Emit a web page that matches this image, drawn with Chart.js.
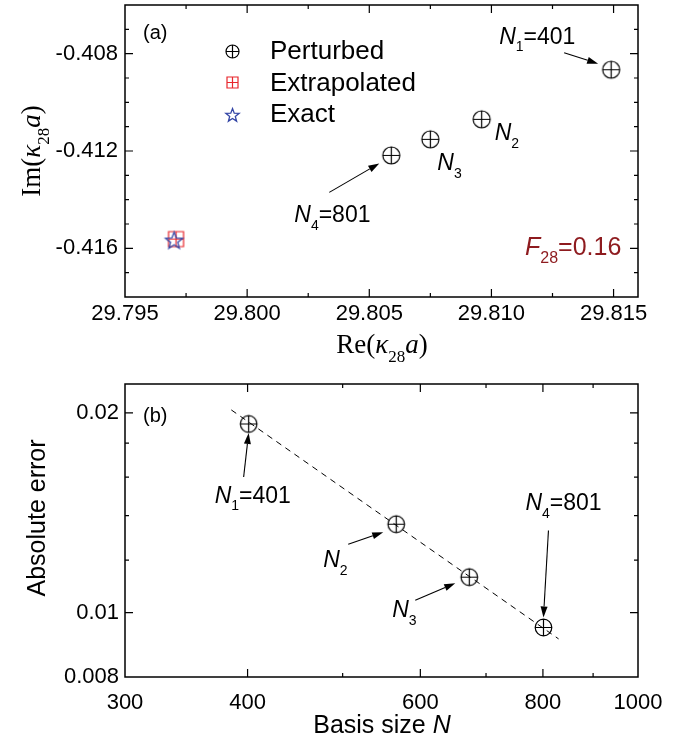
<!DOCTYPE html>
<html>
<head>
<meta charset="utf-8">
<script src="https://cdn.jsdelivr.net/npm/chart.js@4.4.0/dist/chart.umd.min.js"></script>
<style>
  body { margin: 0; background: #fff; }
  canvas { position: absolute; left: 0; }
</style>
</head>
<body>
<canvas id="panelA" width="690" height="370" style="top:0px"></canvas>
<canvas id="panelB" width="690" height="384" style="top:370px"></canvas>
<script>
// ---- panel (a): complex eigenvalue kappa_28 a ----
const perturbedRe = [29.8149, 29.8096, 29.8075, 29.8059];
const perturbedIm = [-0.40866, -0.41070, -0.41152, -0.41218];
const extrapolatedRe = [29.79709];
const extrapolatedIm = [-0.41562];
const exactRe = [29.79701];
const exactIm = [-0.41566];

const reTicks = [29.795, 29.7975, 29.800, 29.8025, 29.805, 29.8075, 29.810, 29.8125, 29.815];
const reLabels = [29.795, 29.800, 29.805, 29.810, 29.815];
const imTicks = [-0.417, -0.416, -0.415, -0.414, -0.413, -0.412, -0.411, -0.410, -0.409, -0.408, -0.407];
const imLabels = [-0.416, -0.412, -0.408];

// ---- panel (b): absolute error vs basis size ----
const basisN = [401, 567, 673, 801];
const absError = [0.01924, 0.01359, 0.01131, 0.00950];
const fitN = [385, 830];
const fitError = [0.0202, 0.00913];

const nTicks = [300, 400, 500, 600, 700, 800, 900, 1000];
const nLabels = [300, 400, 600, 800, 1000];
const errTicks = [0.008, 0.01, 0.012, 0.014, 0.016, 0.018, 0.02];
const errLabels = [0.008, 0.01, 0.02];

const SANS = '"Liberation Sans", Arial, Helvetica, sans-serif';
const SERIF = '"Liberation Serif", "Times New Roman", serif';
Chart.defaults.font.family = SANS;
Chart.defaults.color = '#000';

const has = (list, v) => list.some(l => Math.abs(l - v) < 1e-9);

// fixed axis box sizes, no extra label padding
const fixWidth = w => s => { s.width = w; s.paddingTop = s.paddingBottom = s.paddingLeft = s.paddingRight = 0; };
const fixHeight = h => s => { s.height = h; s.paddingTop = s.paddingBottom = s.paddingLeft = s.paddingRight = 0; };

// marker images
function makeMarker(r, draw) {
  const c = document.createElement('canvas');
  c.width = c.height = 2 * Math.ceil(r + 2) + 1;
  const g = c.getContext('2d');
  draw(g, c.width / 2, r);
  return c;
}
function oplus(r) {
  return makeMarker(r, (g, m, r) => {
    g.strokeStyle = '#000'; g.lineWidth = 1.2;
    g.beginPath(); g.arc(m, m, r, 0, Math.PI * 2);
    g.moveTo(m - r, m); g.lineTo(m + r, m);
    g.moveTo(m, m - r); g.lineTo(m, m + r);
    g.stroke();
  });
}
function boxplus(r) {
  return makeMarker(r, (g, m, r) => {
    g.strokeStyle = '#e8262c'; g.lineWidth = 1.2;
    g.beginPath(); g.rect(m - r, m - r, 2 * r, 2 * r);
    g.moveTo(m - r, m); g.lineTo(m + r, m);
    g.moveTo(m, m - r); g.lineTo(m, m + r);
    g.stroke();
  });
}
function star(r) {
  return makeMarker(r, (g, m, r) => {
    g.strokeStyle = '#3446a6'; g.lineWidth = 1.3;
    g.beginPath();
    for (let k = 0; k < 10; k++) {
      const rr = k % 2 ? r * 0.42 : r;
      const ang = -Math.PI / 2 + k * Math.PI / 5;
      const px = m + rr * Math.cos(ang), py = m + 1 + rr * Math.sin(ang);
      k ? g.lineTo(px, py) : g.moveTo(px, py);
    }
    g.closePath(); g.stroke();
  });
}

function drawRich(ctx, parts, x, y, o) {
  const font = p => `${p.it ? 'italic ' : ''}${p.sub ? Math.round(o.size * 0.62) : o.size}px ${o.family || SANS}`;
  ctx.save();
  ctx.translate(x, y);
  if (o.rotate) ctx.rotate(o.rotate);
  ctx.fillStyle = o.color || '#000';
  ctx.textBaseline = 'alphabetic';
  ctx.textAlign = 'left';
  let w = 0;
  parts.forEach(p => { ctx.font = font(p); w += ctx.measureText(p.t).width; });
  let cx = o.align === 'center' ? -w / 2 : 0;
  parts.forEach(p => {
    ctx.font = font(p);
    ctx.fillText(p.t, cx, p.sub ? o.size * 0.32 : 0);
    cx += ctx.measureText(p.t).width;
  });
  ctx.restore();
}

function arrow(ctx, x1, y1, x2, y2) {
  const a = Math.atan2(y2 - y1, x2 - x1), L = 11, W = 3.5;
  ctx.beginPath(); ctx.moveTo(x1, y1);
  ctx.lineTo(x2 - L * Math.cos(a), y2 - L * Math.sin(a)); ctx.stroke();
  ctx.beginPath();
  ctx.moveTo(x2, y2);
  ctx.lineTo(x2 - L * Math.cos(a) + W * Math.sin(a), y2 - L * Math.sin(a) - W * Math.cos(a));
  ctx.lineTo(x2 - L * Math.cos(a) - W * Math.sin(a), y2 - L * Math.sin(a) + W * Math.cos(a));
  ctx.closePath(); ctx.fill();
}

// frame, inward ticks, legend, notes, titles
const decorPlugin = {
  id: 'decor',
  afterDraw(chart, args, opts) {
    const { ctx, chartArea: a, scales } = chart;
    ctx.save();
    ctx.strokeStyle = '#000'; ctx.fillStyle = '#000';
    ctx.lineWidth = 1.5;
    ctx.strokeRect(a.left, a.top, a.right - a.left, a.bottom - a.top);
    ctx.lineWidth = 1.2;
    ctx.beginPath();
    scales.x.ticks.forEach(t => {
      const px = scales.x.getPixelForValue(t.value);
      if (px <= a.left + 1 || px >= a.right - 1) return;
      const len = has(opts.xLabels, t.value) ? 8 : 4;
      ctx.moveTo(px, a.bottom); ctx.lineTo(px, a.bottom - len);
      ctx.moveTo(px, a.top); ctx.lineTo(px, a.top + len);
    });
    scales.y.ticks.forEach(t => {
      const py = scales.y.getPixelForValue(t.value);
      if (py <= a.top + 1 || py >= a.bottom - 1) return;
      const len = has(opts.yLabels, t.value) ? 8 : 4;
      ctx.moveTo(a.left, py); ctx.lineTo(a.left + len, py);
      ctx.moveTo(a.right, py); ctx.lineTo(a.right - len, py);
    });
    ctx.stroke();

    // legend
    (opts.legend || []).forEach((item, k) => {
      const ds = chart.data.datasets[item.ds];
      const cy = opts.legendY + k * opts.legendStep;
      const img = ds.legendImage;
      ctx.drawImage(img, Math.round(opts.legendX - img.width / 2), Math.round(cy - img.height / 2));
      ctx.font = `26px ${SANS}`;
      ctx.fillText(ds.label, opts.legendX + 38, cy + 8);
    });

    // point annotations
    ctx.lineWidth = 1.1;
    (opts.notes || []).forEach(n => {
      const el = chart.getDatasetMeta(n.ds).data[n.i];
      if (n.arrow) arrow(ctx, el.x + n.arrow[0], el.y + n.arrow[1], el.x + n.arrow[2], el.y + n.arrow[3]);
      drawRich(ctx, n.parts, el.x + n.dx, el.y + n.dy, { size: 23 });
    });

    // free texts and axis titles
    (opts.texts || []).forEach(t => drawRich(ctx, t.parts, t.x, t.y, t));
    ctx.restore();
  }
};

const markerA = oplus(8.5), markerASmall = oplus(6.5);
const squareA = boxplus(7.5), squareASmall = boxplus(5.5);
const starA = star(9), starASmall = star(7);
const markerB = oplus(8.3);

new Chart(document.getElementById('panelA'), {
  type: 'scatter',
  data: {
    datasets: [
      { label: 'Perturbed', order: 2, pointStyle: markerA, legendImage: markerASmall, backgroundColor: 'transparent',
        data: perturbedRe.map((x, i) => ({ x, y: perturbedIm[i] })) },
      { label: 'Extrapolated', order: 1, pointStyle: squareA, legendImage: squareASmall, backgroundColor: 'transparent',
        data: extrapolatedRe.map((x, i) => ({ x, y: extrapolatedIm[i] })) },
      { label: 'Exact', order: 0, pointStyle: starA, legendImage: starASmall, backgroundColor: 'transparent',
        data: exactRe.map((x, i) => ({ x, y: exactIm[i] })) }
    ]
  },
  options: {
    responsive: false, animation: false, devicePixelRatio: 1,
    layout: { padding: { top: 5, right: 52, left: 0, bottom: 0 } },
    scales: {
      x: {
        type: 'linear', min: 29.795, max: 29.816,
        grid: { display: false, drawTicks: false }, border: { display: false },
        afterBuildTicks: s => { s.ticks = reTicks.map(v => ({ value: v })); },
        afterFit: fixHeight(73),
        ticks: { autoSkip: false, maxRotation: 0, padding: 4, font: { size: 22 },
          callback: v => has(reLabels, v) ? v.toFixed(3) : '' }
      },
      y: {
        type: 'linear', min: -0.418, max: -0.406,
        grid: { display: false, drawTicks: false }, border: { display: false },
        afterBuildTicks: s => { s.ticks = imTicks.map(v => ({ value: v })); },
        afterFit: fixWidth(125),
        ticks: { autoSkip: false, padding: 7, font: { size: 22 },
          callback: v => has(imLabels, v) ? v.toFixed(3) : '' }
      }
    },
    plugins: {
      legend: { display: false }, tooltip: { enabled: false },
      decor: {
        xLabels: reLabels, yLabels: imLabels,
        legend: [{ ds: 0 }, { ds: 1 }, { ds: 2 }], legendX: 232, legendY: 51, legendStep: 31.5,
        notes: [
          { ds: 0, i: 0, dx: -112, dy: -26, arrow: [-47, -17, -13, -6],
            parts: [{ t: 'N', it: true }, { t: '1', sub: true }, { t: '=401' }] },
          { ds: 0, i: 1, dx: 13, dy: 21, parts: [{ t: 'N', it: true }, { t: '2', sub: true }] },
          { ds: 0, i: 2, dx: 7, dy: 31, parts: [{ t: 'N', it: true }, { t: '3', sub: true }] },
          { ds: 0, i: 3, dx: -97, dy: 67, arrow: [-62, 37, -12, 8],
            parts: [{ t: 'N', it: true }, { t: '4', sub: true }, { t: '=801' }] }
        ],
        texts: [
          { parts: [{ t: '(a)' }], x: 143, y: 39, size: 20 },
          { parts: [{ t: 'F', it: true }, { t: '28', sub: true }, { t: '=0.16' }], x: 525, y: 255, size: 25, color: '#8e1b1f' },
          { parts: [{ t: 'Re(' }, { t: 'κ', it: true }, { t: '28', sub: true }, { t: 'a', it: true }, { t: ')' }],
            x: 382, y: 353, size: 27, family: SERIF, align: 'center' },
          { parts: [{ t: 'Im(' }, { t: 'κ', it: true }, { t: '28', sub: true }, { t: 'a', it: true }, { t: ')' }],
            x: 40, y: 151, size: 27, family: SERIF, align: 'center', rotate: -Math.PI / 2 }
        ]
      }
    }
  },
  plugins: [decorPlugin]
});

new Chart(document.getElementById('panelB'), {
  type: 'scatter',
  data: {
    datasets: [
      { label: 'Perturbed', pointStyle: markerB, legendImage: markerB, backgroundColor: 'transparent',
        data: basisN.map((x, i) => ({ x, y: absError[i] })) },
      { label: 'Fit', showLine: true, pointRadius: 0, borderColor: '#000', borderWidth: 1,
        borderDash: [6, 5], data: fitN.map((x, i) => ({ x, y: fitError[i] })) }
    ]
  },
  options: {
    responsive: false, animation: false, devicePixelRatio: 1,
    layout: { padding: { top: 14, right: 52, left: 0, bottom: 0 } },
    scales: {
      x: {
        type: 'logarithmic', min: 300, max: 1000,
        grid: { display: false, drawTicks: false }, border: { display: false },
        afterBuildTicks: s => { s.ticks = nTicks.map(v => ({ value: v })); },
        afterFit: fixHeight(77),
        ticks: { autoSkip: false, maxRotation: 0, padding: 13, font: { size: 22 },
          callback: v => has(nLabels, v) ? String(v) : '' }
      },
      y: {
        type: 'logarithmic', min: 0.008, max: 0.0221,
        grid: { display: false, drawTicks: false }, border: { display: false },
        afterBuildTicks: s => { s.ticks = errTicks.map(v => ({ value: v })); },
        afterFit: fixWidth(125),
        ticks: { autoSkip: false, padding: 6, font: { size: 22 },
          callback: v => has(errLabels, v) ? String(v) : '' }
      }
    },
    plugins: {
      legend: { display: false }, tooltip: { enabled: false },
      decor: {
        xLabels: nLabels, yLabels: errLabels,
        notes: [
          { ds: 0, i: 0, dx: -34, dy: 79, arrow: [-5, 53, 0, 9],
            parts: [{ t: 'N', it: true }, { t: '1', sub: true }, { t: '=401' }] },
          { ds: 0, i: 1, dx: -73, dy: 43, arrow: [-48, 20, -13, 8],
            parts: [{ t: 'N', it: true }, { t: '2', sub: true }] },
          { ds: 0, i: 2, dx: -77, dy: 40, arrow: [-54, 23, -14, 6],
            parts: [{ t: 'N', it: true }, { t: '3', sub: true }] },
          { ds: 0, i: 3, dx: -18, dy: -117, arrow: [5, -97, 0, -10],
            parts: [{ t: 'N', it: true }, { t: '4', sub: true }, { t: '=801' }] }
        ],
        texts: [
          { parts: [{ t: '(b)' }], x: 143, y: 52, size: 20 },
          { parts: [{ t: 'Basis size ' }, { t: 'N', it: true }], x: 382, y: 363, size: 25, align: 'center' },
          { parts: [{ t: 'Absolute error' }], x: 45, y: 148, size: 25, align: 'center', rotate: -Math.PI / 2 }
        ]
      }
    }
  },
  plugins: [decorPlugin]
});
</script>
</body>
</html>
